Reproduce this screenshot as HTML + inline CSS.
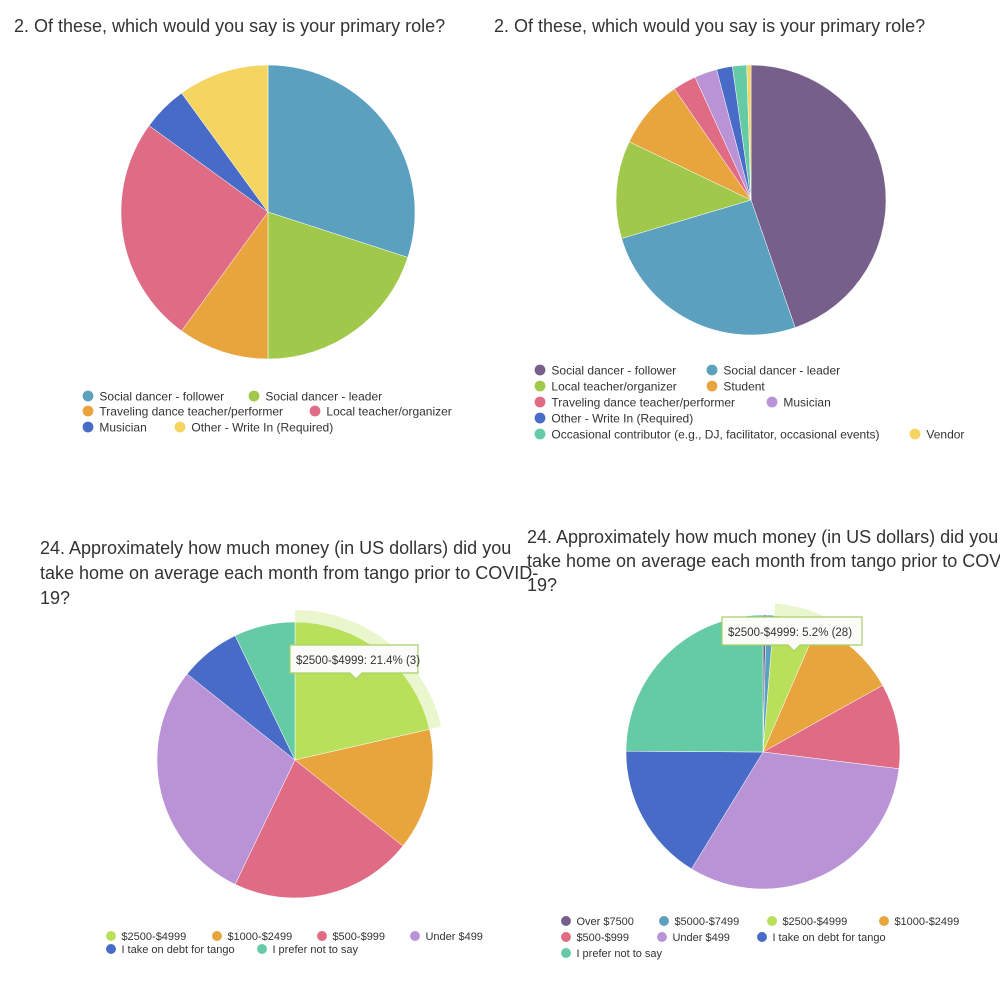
<!DOCTYPE html>
<html><head><meta charset="utf-8"><style>
body{margin:0;background:#fff;width:1000px;height:986px;overflow:hidden;font-family:"Liberation Sans",sans-serif;}
svg text{font-family:"Liberation Sans",sans-serif;fill:#333;}
</style></head><body>
<svg id="s" width="1000" height="986">
<text x="14" y="32" font-size="18">2. Of these, which would you say is your primary role?</text>
<text x="494" y="32" font-size="18">2. Of these, which would you say is your primary role?</text>
<text x="40" y="554" font-size="18"><tspan x="40">24. Approximately how much money (in US dollars) did you</tspan><tspan x="40" dy="25">take home on average each month from tango prior to COVID-</tspan><tspan x="40" dy="25">19?</tspan></text>
<text x="527" y="543" font-size="18"><tspan x="527">24. Approximately how much money (in US dollars) did you</tspan><tspan x="527" dy="24">take home on average each month from tango prior to COVID-</tspan><tspan x="527" dy="24">19?</tspan></text>
</svg>
<script>
const c1Labels=["Social dancer - follower","Social dancer - leader","Traveling dance teacher/performer","Local teacher/organizer","Musician","Other - Write In (Required)"];
const c1Values=[30,20,10,25,5,10];
const c1Colors=["#5ba0bf","#a0c84a","#e8a53e","#df6b84","#476bc6","#f5d562"];
const c2Labels=["Social dancer - follower","Social dancer - leader","Local teacher/organizer","Student","Traveling dance teacher/performer","Musician","Other - Write In (Required)","Occasional contributor (e.g., DJ, facilitator, occasional events)","Vendor"];
const c2Values=[44.7,25.7,11.7,8.3,2.8,2.7,1.9,1.7,0.5];
const c2Colors=["#765f8a","#5ba0bf","#a0c84a","#e8a53e","#df6b84","#b993d6","#476bc6","#64cba4","#f5d562"];
const c3Labels=["$2500-$4999","$1000-$2499","$500-$999","Under $499","I take on debt for tango","I prefer not to say"];
const c3Values=[3,2,3,4,1,1];
const c3Colors=["#b8e05a","#e8a53e","#df6b84","#b993d6","#476bc6","#64cba4"];
const c4Labels=["Over $7500","$5000-$7499","$2500-$4999","$1000-$2499","$500-$999","Under $499","I take on debt for tango","I prefer not to say"];
const c4Values=[2,5,28,56,54,171,88,134];
const c4Colors=["#765f8a","#5ba0bf","#b8e05a","#e8a53e","#df6b84","#b993d6","#476bc6","#64cba4"];
const NS="http://www.w3.org/2000/svg";
const svg=document.getElementById('s');
function mk(t,a){const e=document.createElementNS(NS,t);for(const k in a)e.setAttribute(k,a[k]);svg.appendChild(e);return e;}
function pt(cx,cy,r,a){return [cx+r*Math.sin(a),cy-r*Math.cos(a)];}
function arc(cx,cy,r,a0,a1){const p0=pt(cx,cy,r,a0),p1=pt(cx,cy,r,a1);return `M${cx},${cy}L${p0[0]},${p0[1]}A${r},${r} 0 ${a1-a0>Math.PI?1:0} 1 ${p1[0]},${p1[1]}Z`;}
function pie(id,cx,cy,r,vals,cols,labels){
  const tot=vals.reduce((a,b)=>a+b,0);let a=0;const angs=[];
  vals.forEach((v,i)=>{const a1=a+v/tot*2*Math.PI;
    const p=mk('path',{d:arc(cx,cy,r,a,a1),fill:cols[i],stroke:'#fff','stroke-width':0.5});
    
    
    angs.push([a,a1]);a=a1;});
  return {angs,tot};
}
function legend(id,items,labels,cols,fs){
  items.forEach(([i,x,y])=>{
    const c=mk('circle',{cx:x,cy:y,r:fs*0.45,fill:cols[i]});
    
    
    const t=mk('text',{x:x+fs*0.95,y:y+fs*0.36,'font-size':fs});t.textContent=labels[i];
    
    
  });
}
function halo(cx,cy,r,a0,a1,col){
  const p0=pt(cx,cy,r+6,a0),p1=pt(cx,cy,r+6,a1);
  const h=mk('path',{d:`M${p0[0]},${p0[1]}A${r+6},${r+6} 0 0 1 ${p1[0]},${p1[1]}`,fill:'none',stroke:col,'stroke-width':12,'stroke-opacity':0.3});
  
  
}
function tip(x,y,w,txt,fs){
  const g=mk('path',{d:`M${x},${y}h${w}v28h${-w/2+8}l-6,6l-6,-6h${-w/2+4}z`,fill:'#fbfbf8','stroke':'#a9cf6a','stroke-width':1.2});
  
  
  const t=mk('text',{x:x+6,y:y+19,'font-size':fs,fill:'#444'});t.textContent=txt;
  
  
}
pie('c1',268,212,147,c1Values,c1Colors,c1Labels);
legend('c1',[[0,88,396],[1,254,396],[2,88,411],[3,315,411],[4,88,427],[5,180,427]],c1Labels,c1Colors,12);
pie('c2',751,200,135,c2Values,c2Colors,c2Labels);
legend('c2',[[0,540,370],[1,712,370],[2,540,386],[3,712,386],[4,540,402],[5,772,402],[6,540,418],[7,540,434],[8,915,434]],c2Labels,c2Colors,12);
const r3=pie('c3',295,760,138,c3Values,c3Colors,c3Labels);
halo(295,760,138,r3.angs[0][0],r3.angs[0][1],'#b8e05a');
tip(290,645,128,c3Labels[0]+': '+(c3Values[0]/r3.tot*100).toFixed(1)+'% ('+c3Values[0]+')',11.5);
legend('c3',[[0,111,936],[1,217,936],[2,322,936],[3,415,936],[4,111,949],[5,262,949]],c3Labels,c3Colors,11);
const r4=pie('c4',763,752,137,c4Values,c4Colors,c4Labels);
halo(763,752,137,r4.angs[2][0],r4.angs[2][1],'#b8e05a');
tip(722,617,140,c4Labels[2]+': '+(c4Values[2]/r4.tot*100).toFixed(1)+'% ('+c4Values[2]+')',11.5);
legend('c4',[[0,566,921],[1,664,921],[2,772,921],[3,884,921],[4,566,937],[5,662,937],[6,762,937],[7,566,953]],c4Labels,c4Colors,11);
</script>
</body></html>
